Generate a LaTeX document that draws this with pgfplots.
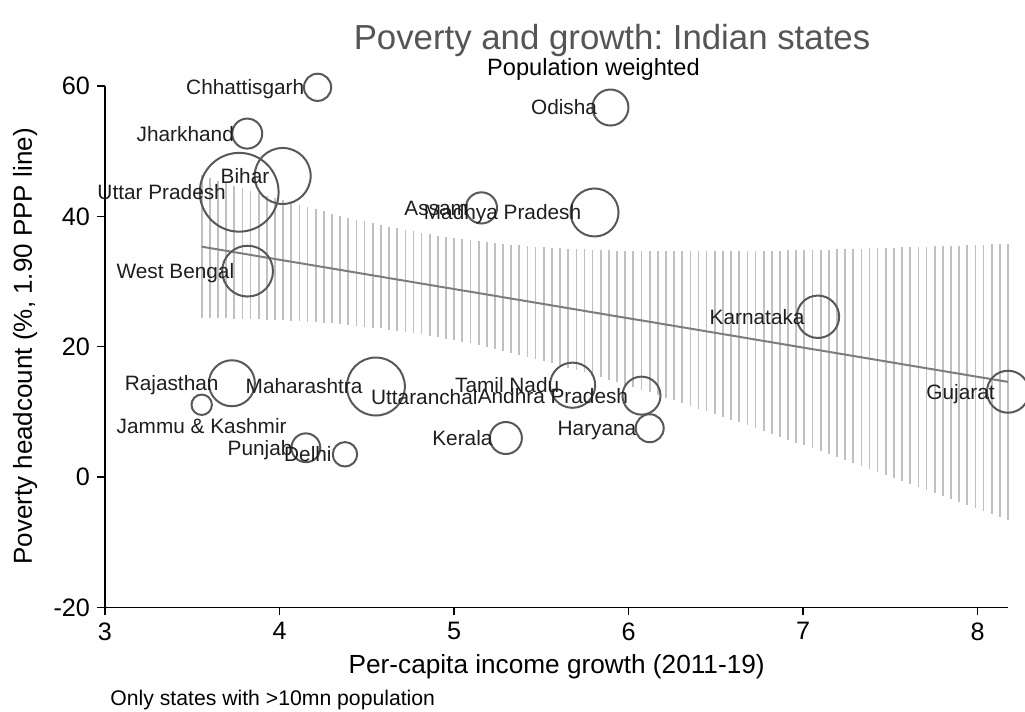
\documentclass[border=0pt]{standalone}
\usepackage{pgfplots}
\pgfplotsset{compat=1.18}
\usepackage{pgfplotstable}
\usepackage{fontspec}
\setmainfont{Liberation Sans}
\frenchspacing

\definecolor{bubble}{RGB}{88,88,88}
\definecolor{spike}{RGB}{192,192,192}
\definecolor{fitline}{RGB}{125,125,125}
\definecolor{titlegray}{RGB}{85,85,85}
\definecolor{labeltext}{RGB}{30,30,30}

% State, growth 2011-19 (x), poverty headcount (y), bubble radius in pt (population weight)
\pgfplotstableread[col sep=comma]{
state,x,y,r
Chhattisgarh,4.218,59.8,6.8
Jharkhand,3.815,52.7,7.5
Bihar,4.018,46.2,14.0
Uttar Pradesh,3.769,43.7,19.7
West Bengal,3.817,31.6,12.7
Odisha,5.896,56.7,9.0
Assam,5.157,41.3,7.8
Madhya Pradesh,5.805,40.6,12.0
Karnataka,7.085,24.6,10.6
Rajasthan,3.727,14.4,11.5
Maharashtra,4.552,13.9,14.5
Tamil Nadu,5.679,14.1,11.3
Andhra Pradesh,6.074,12.5,9.5
Gujarat,8.174,13.1,10.5
Haryana,6.121,7.5,7.0
Kerala,5.297,6.0,8.0
Punjab,4.151,4.5,7.2
Delhi,4.375,3.5,6.1
Jammu \& Kashmir,3.554,11.1,5.1
Uttaranchal,5.211,12.3,0
}\states

% Weighted linear fit with its 95% confidence band (fitted value y, half-width e)
\pgfplotstableread{
x y e
3.554 35.35 10.94
3.601 35.14 10.74
3.647 34.93 10.56
3.694 34.72 10.37
3.741 34.51 10.19
3.787 34.30 10.01
3.834 34.09 9.84
3.881 33.88 9.67
3.927 33.67 9.51
3.974 33.46 9.36
4.021 33.25 9.20
4.067 33.05 9.06
4.114 32.84 8.92
4.161 32.63 8.79
4.207 32.42 8.66
4.254 32.21 8.54
4.301 32.00 8.43
4.347 31.79 8.33
4.394 31.58 8.24
4.441 31.37 8.15
4.487 31.16 8.07
4.534 30.95 8.00
4.581 30.74 7.94
4.627 30.53 7.89
4.674 30.32 7.85
4.721 30.11 7.82
4.767 29.90 7.79
4.814 29.69 7.78
4.861 29.48 7.78
4.907 29.27 7.79
4.954 29.06 7.80
5.001 28.85 7.83
5.047 28.64 7.87
5.094 28.44 7.91
5.141 28.23 7.97
5.187 28.02 8.03
5.234 27.81 8.11
5.281 27.60 8.19
5.327 27.39 8.28
5.374 27.18 8.38
5.421 26.97 8.48
5.467 26.76 8.60
5.514 26.55 8.72
5.561 26.34 8.85
5.607 26.13 8.98
5.654 25.92 9.12
5.701 25.71 9.27
5.747 25.50 9.43
5.794 25.29 9.59
5.841 25.08 9.75
5.887 24.87 9.92
5.934 24.66 10.09
5.981 24.45 10.27
6.027 24.24 10.45
6.074 24.04 10.64
6.121 23.83 10.83
6.167 23.62 11.03
6.214 23.41 11.23
6.261 23.20 11.43
6.307 22.99 11.63
6.354 22.78 11.84
6.401 22.57 12.05
6.447 22.36 12.26
6.494 22.15 12.48
6.541 21.94 12.69
6.587 21.73 12.91
6.634 21.52 13.14
6.681 21.31 13.36
6.727 21.10 13.59
6.774 20.89 13.81
6.821 20.68 14.04
6.867 20.47 14.27
6.914 20.26 14.51
6.961 20.05 14.74
7.007 19.84 14.98
7.054 19.63 15.22
7.101 19.43 15.45
7.147 19.22 15.69
7.194 19.01 15.93
7.241 18.80 16.18
7.287 18.59 16.42
7.334 18.38 16.66
7.381 18.17 16.91
7.427 17.96 17.16
7.474 17.75 17.40
7.521 17.54 17.65
7.567 17.33 17.90
7.614 17.12 18.15
7.661 16.91 18.40
7.707 16.70 18.65
7.754 16.49 18.90
7.801 16.28 19.16
7.847 16.07 19.41
7.894 15.86 19.66
7.941 15.65 19.92
7.987 15.44 20.17
8.034 15.24 20.43
8.081 15.03 20.69
8.127 14.82 20.94
8.174 14.61 21.20
}\citab

\begin{document}
\begin{tikzpicture}
\begin{axis}[
  scale only axis,
  width=451.5pt, height=260.75pt,
  xmin=3, xmax=8.174, ymin=-20, ymax=60,
  axis x line=bottom, axis y line=left,
  axis line style={black, line width=0.65pt, -},
  tick align=outside, major tick length=4pt,
  tick style={black, line width=0.65pt},
  minor tick num=0,
  xtick={3,4,5,6,7,8}, xticklabels={3,4,5,6,7,8},
  ytick={-20,0,20,40,60}, yticklabels={-20,0,20,40,60},
  tick label style={font=\fontsize{12.6}{14}\selectfont},
  clip=false,
]
% population-weighted bubbles
\addplot[
  scatter, only marks, mark=o,
  point meta=\thisrow{r},
  visualization depends on={\thisrow{r} \as \brad},
  scatter/@pre marker code/.code={%
    \scope[draw=bubble, fill=none, line width=1pt, /tikz/mark size=\brad pt]},
  scatter/@post marker code/.code={\endscope},
  skip coords between index={19}{20},
] table[x=x, y=y] {\states};

% state names to the left of the bubbles
\addplot[
  draw=none, mark=none,
  point meta=explicit symbolic,
  nodes near coords,
  skip coords between index={18}{19},
  nodes near coords style={anchor=east, xshift=-6.5pt, inner sep=0pt,
    font=\fontsize{10.4}{12}\selectfont, text=labeltext,
    text height=7.45pt, text depth=0pt},
] table[x=x, y=y, meta=state] {\states};

% Jammu & Kashmir labelled below its bubble
\addplot[
  draw=none, mark=none,
  point meta=explicit symbolic,
  nodes near coords,
  skip coords between index={0}{18},
  skip coords between index={19}{20},
  nodes near coords style={anchor=north, yshift=-6.75pt, inner sep=0pt,
    font=\fontsize{10.4}{12}\selectfont, text=labeltext,
    text height=7.45pt, text depth=0pt},
] table[x=x, y=y, meta=state] {\states};

% confidence band as spikes
\addplot[
  draw=none, mark=none,
  error bars/.cd, y dir=both, y explicit, error mark=none,
  error bar style={draw=spike, line width=0.85pt},
] table[x=x, y=y, y error=e] {\citab};

% fitted line
\addplot[draw=fitline, line width=1pt, mark=none] table[x=x, y=y] {\citab};
\end{axis}

\node[font=\fontsize{17.4}{20}\selectfont, text=titlegray, inner sep=0pt,
  text height=12.46pt, text depth=0pt] at (253.5pt,285pt)
  {Poverty and growth: Indian states};
\node[font=\fontsize{11.8}{14}\selectfont, text=black, inner sep=0pt,
  text height=8.45pt, text depth=0pt] at (244.25pt,270.25pt)
  {Population weighted};
\node[font=\fontsize{13.1}{15}\selectfont, inner sep=0pt,
  text height=9.38pt, text depth=0pt] at (225.85pt,-28.25pt)
  {Per-capita income growth (2011-19)};
\node[font=\fontsize{13}{15}\selectfont, inner sep=0pt, rotate=90,
  text height=9.3pt, text depth=0pt] at (-41.2pt,130.5pt)
  {Poverty headcount (\%, 1.90 PPP line)};
\node[font=\fontsize{10.6}{12}\selectfont, inner sep=0pt, anchor=west,
  text height=7.6pt, text depth=0pt] at (2.5pt,-45.4pt)
  {Only states with >10mn population};

\pgfresetboundingbox
\path[use as bounding box] (-52.5pt,-52.25pt) rectangle (460pt,303.75pt);
\end{tikzpicture}
\end{document}
